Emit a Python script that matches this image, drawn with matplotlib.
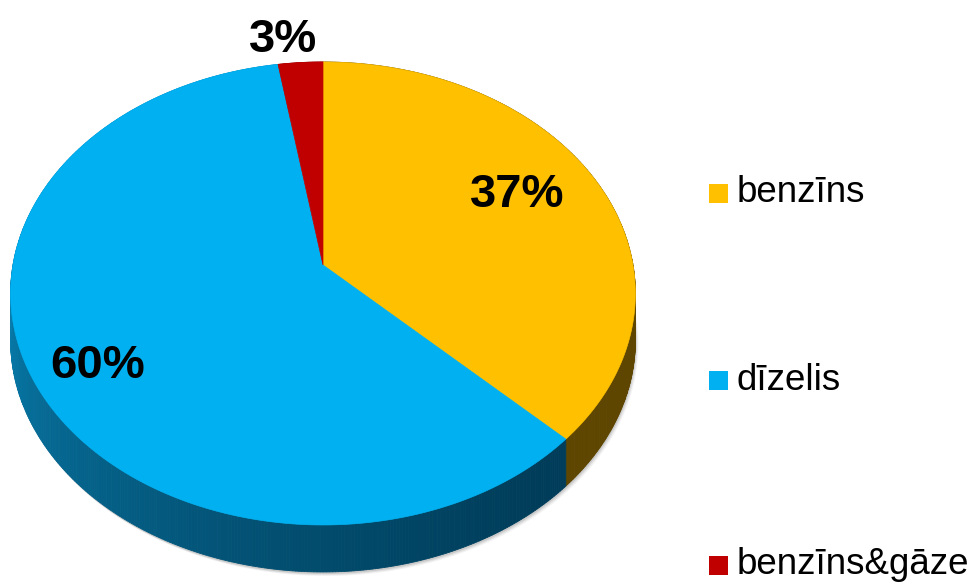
import numpy as np
import matplotlib
matplotlib.use("Agg")
import matplotlib.pyplot as plt
from matplotlib.patches import Polygon, Rectangle
from matplotlib.colors import to_rgb

# ---------------- DATA ----------------
fuel = ["benzīns", "dīzelis", "benzīns&gāze"]
share = [37.3, 60.1, 2.6]
pct_labels = ["37%", "60%", "3%"]
top_colors = ["#ffc000", "#00b0f0", "#c00000"]
side_dark = ["#5e4600", "#003d5a", "#6a0000"]
side_light = ["#6a5000", "#0a8cc0", "#800000"]

# ---------------- GEOMETRY ----------------
W, H = 977, 584
cx, cy = 323, 265       # projected pie centre
sx, sy = 310, 228       # radii before perspective
k = 0.123               # perspective strength
depth = 47


def project(theta_deg, rho=1.0, drop=0.0):
    # theta measured clockwise from 12 o'clock
    t = np.radians(theta_deg)
    u = rho * np.sin(t)
    v = rho * np.cos(t)
    w = 1 + k * v
    return cx + sx * u / w, cy - sy * v / w + drop


plt.rcParams["font.family"] = ["Liberation Sans", "DejaVu Sans"]
fig = plt.figure(figsize=(W / 100, H / 100), dpi=100)
ax = fig.add_axes([0, 0, 1, 1])
ax.set_xlim(0, W)
ax.set_ylim(H, 0)
ax.axis("off")

bounds = np.concatenate([[0], np.cumsum(share)]) * 3.6

# soft shadow under the front rim
for i, a in enumerate([0.05, 0.07, 0.1]):
    th = np.linspace(90, 270, 200)
    xs, ys = project(th, 1.0, depth)
    off = 3 - i
    pts = list(zip(xs + off, ys + off + 1))
    xt, yt = project(th[::-1], 1.0, 0)
    pts += list(zip(xt, yt))
    ax.add_patch(Polygon(pts, closed=True, fc="black", ec="none", alpha=a, zorder=1))

# side walls, drawn in thin strips so the shading can vary
for i in range(len(share)):
    a0, a1 = bounds[i], bounds[i + 1]
    th = np.linspace(a0, a1, max(int((a1 - a0) * 2), 2))
    dk = np.array(to_rgb(side_dark[i]))
    lt = np.array(to_rgb(side_light[i]))
    for j in range(len(th) - 1):
        tm = 0.5 * (th[j] + th[j + 1])
        # brighter toward the left, darkest toward lower right
        f = np.clip((tm - 140) / (290 - 140), 0, 1) if tm > 90 else 0.0
        col = dk + (lt - dk) * f ** 1.3
        x0, y0 = project(th[j])
        x1, y1 = project(th[j + 1])
        x2, y2 = project(th[j + 1], drop=depth)
        x3, y3 = project(th[j], drop=depth)
        ax.add_patch(Polygon([(x0, y0), (x1, y1), (x2, y2), (x3, y3)], closed=True,
                             fc=col, ec=col, lw=0.6, zorder=2))

# top faces
for i in range(len(share)):
    th = np.linspace(bounds[i], bounds[i + 1], 200)
    xs, ys = project(th)
    pts = [(cx, cy)] + list(zip(xs, ys))
    ax.add_patch(Polygon(pts, closed=True, fc=top_colors[i], ec=top_colors[i], lw=0.5, zorder=3))

# percentage labels
label_rho = [0.62, 0.8, 1.17]
label_shift = [(22, -17), (5, 13), (-14, 8)]
for i in range(len(share)):
    mid = 0.5 * (bounds[i] + bounds[i + 1])
    x, y = project(mid, label_rho[i])
    ax.text(x + label_shift[i][0], y + label_shift[i][1], pct_labels[i], fontsize=34,
            fontweight="bold", ha="center", va="center", color="black", zorder=5)

# legend
leg_y = [193, 380, 565]
for i, name in enumerate(fuel):
    ax.add_patch(Rectangle((709, leg_y[i] - 9.5), 19, 19, fc=top_colors[i], ec="none", zorder=5))
    ax.text(737, leg_y[i], name, fontsize=26.5, ha="left", va="center", color="black", zorder=5)

fig.savefig("out.png", dpi=100)
